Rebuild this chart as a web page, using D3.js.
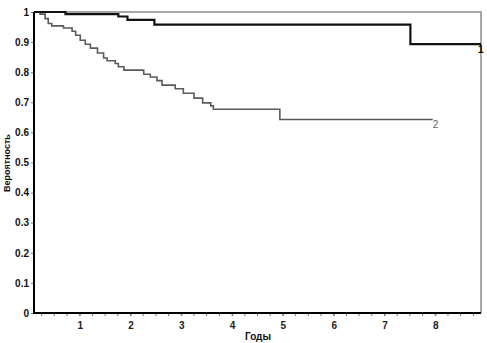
<!DOCTYPE html>
<html>
<head>
<meta charset="utf-8">
<script src="https://cdn.jsdelivr.net/npm/d3@7"></script>
<style>
  body { margin: 0; background: #fff; }
  svg { display: block; font-family: "Liberation Sans", Arial, sans-serif; }
</style>
</head>
<body>
<svg id="chart" width="487" height="343"></svg>
<script>
// Kaplan-Meier style curves
var group1Time = [0.10, 0.72, 1.76, 1.94, 2.47, 7.51, 8.90];
var group1Surv = [1.000, 0.993, 0.985, 0.974, 0.958, 0.893, 0.893];

var group2Time = [0.10, 0.22, 0.32, 0.38, 0.45, 0.68, 0.85, 0.92, 1.01, 1.11, 1.21, 1.35, 1.47, 1.54,
                  1.70, 1.76, 1.87, 2.26, 2.39, 2.52, 2.62, 2.88, 3.04, 3.25, 3.42, 3.58, 3.63, 4.94, 7.95];
var group2Surv = [1.000, 0.993, 0.978, 0.962, 0.954, 0.947, 0.936, 0.923, 0.906, 0.893, 0.880, 0.864, 0.847, 0.838,
                  0.829, 0.818, 0.807, 0.793, 0.784, 0.772, 0.757, 0.745, 0.730, 0.714, 0.698, 0.688, 0.677, 0.643, 0.643];

var xTicks = [1, 2, 3, 4, 5, 6, 7, 8];
var yTicks = [0, 0.1, 0.2, 0.3, 0.4, 0.5, 0.6, 0.7, 0.8, 0.9, 1];
var xTitle = "Годы";
var yTitle = "Вероятность";

var svg = d3.select("#chart");
var plotLeft = 34, plotRight = 481, plotTop = 12, plotBottom = 313;

var x = d3.scaleLinear().domain([0.1, 8.9]).range([plotLeft, plotRight]);
var y = d3.scaleLinear().domain([0, 1]).range([plotBottom, plotTop]);

// grey frame on top and right
svg.append("path")
    .attr("d", "M" + plotLeft + "," + y(1) + "H" + plotRight + "V" + plotBottom)
    .attr("fill", "none")
    .attr("stroke", "#8a8a8a")
    .attr("stroke-width", 1.5);

// minor ticks on x
var minor = d3.range(0.25, 8.9, 0.25);
svg.append("g").selectAll("line").data(minor).enter().append("line")
    .attr("x1", function(d) { return x(d); })
    .attr("x2", function(d) { return x(d); })
    .attr("y1", plotBottom)
    .attr("y2", plotBottom + 3)
    .attr("stroke", "#777")
    .attr("stroke-width", 1);

var xAxis = d3.axisBottom(x).tickValues(xTicks).tickSize(3).tickFormat(d3.format("d"));
var gx = svg.append("g").attr("transform", "translate(0," + plotBottom + ")").call(xAxis);
gx.select(".domain").remove();
gx.selectAll(".tick line").attr("stroke", "#777");
gx.selectAll("text").attr("font-size", 10).attr("font-weight", "bold").attr("fill", "#222").attr("dy", "0.95em");

var yAxis = d3.axisLeft(y).tickValues(yTicks).tickSize(3).tickFormat(function(d) { return String(+d.toFixed(1)); });
var gy = svg.append("g").attr("transform", "translate(" + plotLeft + ",0)").call(yAxis);
gy.select(".domain").remove();
gy.selectAll(".tick line").attr("stroke", "#777");
gy.selectAll("text").attr("font-size", 10).attr("font-weight", "bold").attr("fill", "#111").attr("x", -5);

// black axis lines
svg.append("path")
    .attr("d", "M" + plotLeft + "," + plotTop + "V" + plotBottom + "H" + plotRight)
    .attr("fill", "none")
    .attr("stroke", "#000")
    .attr("stroke-width", 2);

var line = d3.line()
    .x(function(d) { return x(d[0]); })
    .y(function(d) { return y(d[1]); })
    .curve(d3.curveStepAfter);

svg.append("path")
    .datum(d3.zip(group2Time, group2Surv))
    .attr("d", line)
    .attr("fill", "none")
    .attr("stroke", "#5a5a5a")
    .attr("stroke-width", 1.6);

svg.append("path")
    .datum(d3.zip(group1Time, group1Surv))
    .attr("d", line)
    .attr("fill", "none")
    .attr("stroke", "#111")
    .attr("stroke-width", 2.2);

// curve labels
svg.append("text")
    .attr("x", x(group2Time[group2Time.length - 1]))
    .attr("y", y(group2Surv[group2Surv.length - 1]) + 9)
    .attr("font-size", 10)
    .attr("fill", "#666")
    .text("2");

svg.append("text")
    .attr("x", x(group1Time[group1Time.length - 1]) - 3)
    .attr("y", y(group1Surv[group1Surv.length - 1]) + 9)
    .attr("font-size", 10)
    .attr("font-weight", "bold")
    .attr("fill", "#000")
    .text("1");

// axis titles
svg.append("text")
    .attr("x", 258)
    .attr("y", 340)
    .attr("text-anchor", "middle")
    .attr("font-size", 10)
    .attr("font-weight", "bold")
    .attr("fill", "#111")
    .text(xTitle);

svg.append("text")
    .attr("transform", "translate(10,163) rotate(-90)")
    .attr("text-anchor", "middle")
    .attr("font-size", 9)
    .attr("font-weight", "bold")
    .attr("fill", "#111")
    .text(yTitle);
</script>
</body>
</html>
